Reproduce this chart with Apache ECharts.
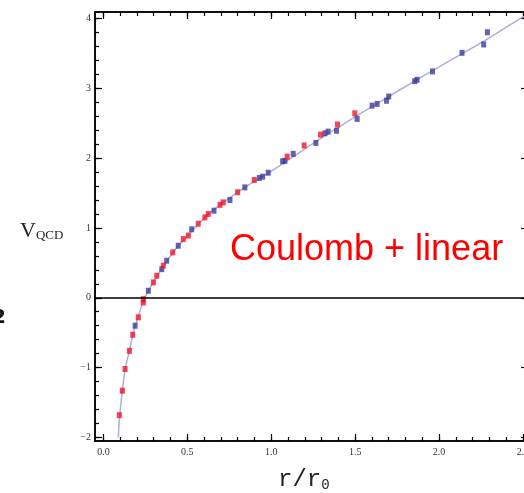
<!DOCTYPE html>
<html>
<head>
<meta charset="utf-8">
<script src="https://cdn.jsdelivr.net/npm/echarts@6/dist/echarts.min.js"></script>
<style>
html,body{margin:0;padding:0;background:#fff;}
#chart{width:524px;height:493px;}
</style>
</head>
<body>
<div id="chart"></div>
<script>
// Tick values
const xMajorTicks = [0.0, 0.5, 1.0, 1.5, 2.0, 2.5];
const xMinorTicks = [0.0,0.1,0.2,0.3,0.4,0.5,0.6,0.7,0.8,0.9,1.0,1.1,1.2,1.3,1.4,1.5,1.6,1.7,1.8,1.9,2.0,2.1,2.2,2.3,2.4,2.5];
const yMajorTicks = [-2, -1, 0, 1, 2, 3, 4];
const yMinorTicks = [-2,-1.8,-1.6,-1.4,-1.2,-1,-0.8,-0.6,-0.4,-0.2,0,0.2,0.4,0.6,0.8,1,1.2,1.4,1.6,1.8,2,2.2,2.4,2.6,2.8,3,3.2,3.4,3.6,3.8,4];

// Fitted curve (Coulomb + linear)
const curveR = [0.089,0.095,0.113,0.13,0.155,0.175,0.2,0.238,0.268,0.3,0.35,0.4,0.45,0.5,0.6,0.7,0.8,0.9,1.0,1.1,1.2,1.3,1.4,1.5,1.6,1.7,1.85,2.0,2.15,2.3,2.5,2.55];
const curveV = [-2.0,-1.75,-1.33,-1.02,-0.76,-0.53,-0.33,-0.05,0.10,0.23,0.42,0.6,0.755,0.88,1.14,1.34,1.51,1.665,1.81,1.97,2.13,2.29,2.44,2.59,2.735,2.88,3.095,3.305,3.51,3.72,4.02,4.09];

// Red data points
const redR = [0.095,0.113,0.129,0.155,0.175,0.208,0.238,0.238,0.298,0.318,0.357,0.413,0.476,0.506,0.565,0.605,0.625,0.695,0.714,0.80,0.899,1.095,1.196,1.294,1.395,1.498];
const redV = [-1.68,-1.33,-1.02,-0.76,-0.53,-0.28,-0.067,-0.02,0.22,0.315,0.46,0.65,0.84,0.89,1.06,1.15,1.20,1.33,1.365,1.51,1.686,2.02,2.18,2.335,2.48,2.64];

// Blue data points
const blueR = [0.189,0.268,0.348,0.377,0.446,0.526,0.659,0.754,0.843,0.929,0.949,0.982,1.068,1.082,1.131,1.266,1.32,1.339,1.389,1.512,1.601,1.631,1.687,1.70,1.855,1.869,1.961,2.137,2.266,2.288];
const blueV = [-0.40,0.10,0.41,0.53,0.745,0.98,1.246,1.40,1.58,1.715,1.733,1.79,1.953,1.96,2.06,2.216,2.354,2.378,2.39,2.56,2.75,2.775,2.82,2.88,3.10,3.12,3.24,3.506,3.625,3.80];

const zip = (a, b) => a.map((v, i) => [v, b[i]]);

const XMIN = -0.05, XMAX = 2.53, YMIN = -2.05, YMAX = 4.09;
const labelFont = {fontFamily: 'Liberation Serif', fontSize: 10, color: '#333'};
const frameLine = {show: true, onZero: false, lineStyle: {color: '#000', width: 1.5}};

function xAxisDef(pos, ticks, len, showLabel) {
  return {
    type: 'value', position: pos, min: XMIN, max: XMAX,
    axisLine: frameLine,
    axisTick: {show: true, inside: true, length: len, customValues: ticks, lineStyle: {color: '#000', width: 1.2}},
    axisLabel: showLabel ? Object.assign({show: true, customValues: xMajorTicks, margin: 6,
      formatter: v => v.toFixed(1)}, labelFont) : {show: false},
    splitLine: {show: false}
  };
}
function yAxisDef(pos, ticks, len, showLabel) {
  return {
    type: 'value', position: pos, min: YMIN, max: YMAX,
    axisLine: frameLine,
    axisTick: {show: true, inside: true, length: len, customValues: ticks, lineStyle: {color: '#000', width: 1.2}},
    axisLabel: showLabel ? Object.assign({show: true, customValues: yMajorTicks, margin: 4,
      formatter: v => String(Math.round(v)).replace('-', '\u2212')}, labelFont) : {show: false},
    splitLine: {show: false}
  };
}

const chart = echarts.init(document.getElementById('chart'), null, {renderer: 'canvas'});
chart.setOption({
  backgroundColor: '#fff',
  animation: false,
  grid: {left: 95, top: 12, width: 433, height: 429, containLabel: false, outerBoundsMode: 'none'},
  xAxis: [
    xAxisDef('bottom', xMajorTicks, 7, true),
    xAxisDef('bottom', xMinorTicks, 4, false),
    xAxisDef('top', xMajorTicks, 7, false),
    xAxisDef('top', xMinorTicks, 4, false)
  ],
  yAxis: [
    yAxisDef('left', yMajorTicks, 7, true),
    yAxisDef('left', yMinorTicks, 4, false),
    yAxisDef('right', yMajorTicks, 7, false),
    yAxisDef('right', yMinorTicks, 4, false)
  ],
  series: [
    {
      type: 'line', data: zip(curveR, curveV), smooth: 0.3, showSymbol: false, symbol: 'none',
      lineStyle: {color: '#aeaed6', width: 1.5}, clip: true, z: 2,
      markLine: {
        silent: true, symbol: 'none', label: {show: false},
        lineStyle: {color: '#000', width: 1.5, type: 'solid'},
        data: [{yAxis: 0}]
      }
    },
    {
      type: 'scatter', data: zip(blueR, blueV), symbol: 'rect', symbolSize: [5, 6],
      itemStyle: {color: '#3c3c9c'}, z: 3
    },
    {
      type: 'scatter', data: zip(redR, redV), symbol: 'rect', symbolSize: [5, 6],
      itemStyle: {color: '#f0142d'}, z: 4
    }
  ],
  graphic: [
    {
      type: 'text', left: 230, top: 232,
      style: {text: 'Coulomb + linear', fontFamily: 'Liberation Sans', fontSize: 36, fill: '#ff0000'}
    },
    {
      type: 'text', left: 20, top: 220,
      style: {
        text: '{v|V}{s|QCD}',
        rich: {
          v: {fontFamily: 'Liberation Serif', fontSize: 22, fill: '#222', verticalAlign: 'bottom'},
          s: {fontFamily: 'Liberation Serif', fontSize: 13, fill: '#222', padding: [8, 0, 0, 0], verticalAlign: 'bottom'}
        }
      }
    },
    {
      type: 'text', left: 278, top: 468,
      style: {
        text: '{a|r/r}{b|0}',
        rich: {
          a: {fontFamily: 'Liberation Mono', fontSize: 24, fill: '#222', verticalAlign: 'bottom'},
          b: {fontFamily: 'Liberation Mono', fontSize: 14, fill: '#222', padding: [8, 0, 0, 0], verticalAlign: 'bottom'}
        }
      }
    },
    {
      type: 'text', left: -8, top: 308,
      style: {text: '2', fontFamily: 'DejaVu Sans', fontWeight: 'bold', fontSize: 20, fill: '#111'}
    }
  ]
});
</script>
</body>
</html>
